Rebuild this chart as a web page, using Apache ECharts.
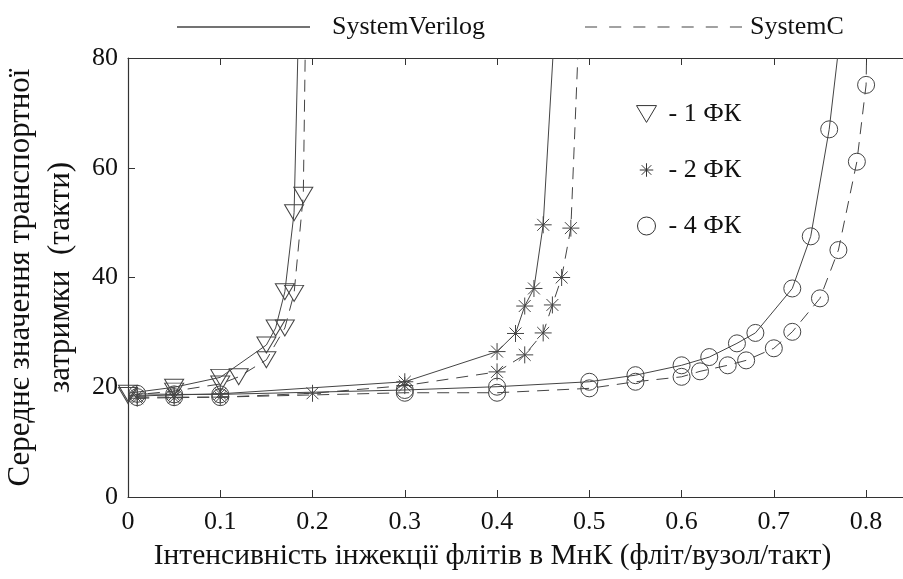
<!DOCTYPE html>
<html>
<head>
<meta charset="utf-8">
<script src="https://cdn.jsdelivr.net/npm/echarts@6/dist/echarts.min.js"></script>
<style>
  html, body { margin: 0; padding: 0; background: #fff; }
  #main { width: 903px; height: 579px; }
</style>
</head>
<body>
<div id="main"></div>
<script>
// точки [інтенсивність, затримка]; остання точка з y = 80 — вихід кривої за верх графіка
var sv1 = [[0, 18.9], [0.05, 20], [0.1, 21.8], [0.15, 27.7], [0.16, 30.8], [0.17, 37.4], [0.18, 51.8], [0.184, 80]];
var sc1 = [[0, 18.5], [0.05, 19.3], [0.1, 20.6], [0.12, 21.9], [0.15, 25], [0.17, 30.8], [0.18, 37.1], [0.19, 55], [0.192, 80]];
var sv2 = [[0.01, 18.4], [0.05, 18.6], [0.1, 18.8], [0.3, 21], [0.4, 26.5], [0.42, 29.8], [0.43, 34.8], [0.44, 38], [0.45, 49.6], [0.4605, 80]];
var sc2 = [[0.01, 18], [0.05, 18.1], [0.1, 18.2], [0.2, 18.9], [0.3, 20.3], [0.4, 22.8], [0.43, 25.9], [0.45, 29.9], [0.46, 35], [0.47, 40], [0.48, 49], [0.4875, 80]];
var sv4 = [[0.01, 18.8], [0.05, 18.7], [0.1, 18.7], [0.3, 19.5], [0.4, 20.1], [0.5, 21], [0.55, 22.2], [0.6, 24], [0.63, 25.5], [0.66, 28], [0.68, 29.9], [0.72, 38], [0.74, 47.5], [0.76, 67], [0.769, 80]];
var sc4 = [[0.01, 18.2], [0.05, 18.2], [0.1, 18.2], [0.3, 19], [0.4, 19], [0.5, 19.8], [0.55, 21], [0.6, 21.9], [0.62, 22.9], [0.65, 24], [0.67, 24.9], [0.7, 27.1], [0.72, 30.1], [0.75, 36.2], [0.77, 45], [0.79, 61.1], [0.8, 75.1], [0.8005, 80]];

var groupNames = ['- 1 ФК', '- 2 ФК', '- 4 ФК'];
var langNames = ['SystemVerilog', 'SystemC'];

var font = "'Liberation Serif', 'Times New Roman', serif";
var ink = '#111';
var lineCol = '#444';
var dash = [12, 8];

var starPath = 'path://M0,-10L0,10M-10,0L10,0M-7,-7L7,7M-7,7L7,-7';
var marks = [
  { symbol: 'triangle', size: [19, 16], rotate: 180 },
  { symbol: starPath, size: 17, rotate: 0 },
  { symbol: 'circle', size: 17, rotate: 0 }
];

function mk(name, pts, m, dashed) {
  return {
    name: name,
    type: 'line',
    data: pts.map(function (p) { return p[1] >= 80 ? { value: p, symbol: 'none' } : p; }),
    symbol: m.symbol,
    symbolSize: m.size,
    symbolRotate: m.rotate,
    showAllSymbol: true,
    lineStyle: { color: lineCol, width: 1, type: dashed ? dash : 'solid' },
    itemStyle: { color: 'rgba(0,0,0,0)', borderColor: lineCol, borderWidth: 1 },
    emphasis: { disabled: true },
    silent: true
  };
}

var series = [
  mk(groupNames[0], sv1, marks[0], false),
  mk(groupNames[0], sc1, marks[0], true),
  mk(groupNames[1], sv2, marks[1], false),
  mk(groupNames[1], sc2, marks[1], true),
  mk(groupNames[2], sv4, marks[2], false),
  mk(groupNames[2], sc4, marks[2], true),
  // порожні серії тільки для легенди зверху
  { name: langNames[0], type: 'line', data: [], lineStyle: { color: lineCol } },
  { name: langNames[1], type: 'line', data: [], lineStyle: { color: lineCol, type: dash } }
];

var dashIcon = 'path://';
for (var i = 0; i < 7; i++) dashIcon += 'M' + (i * 24) + ',0h12v1h-12z';

var myChart = echarts.init(document.getElementById('main'), null, { renderer: 'canvas' });
var option = {
  animation: false,
  backgroundColor: '#fff',
  textStyle: { fontFamily: font },
  grid: { left: 128, right: 0, top: 58, bottom: 82, containLabel: false, outerBoundsMode: 'none' },
  legend: [
    {
      data: [langNames[0]], left: 172, top: 9, selectedMode: false,
      itemWidth: 133, itemHeight: 2,
      icon: 'path://M0,0H100V1H0Z',
      itemStyle: { color: lineCol, borderWidth: 0 },
      textStyle: { fontFamily: font, fontSize: 26, color: ink, padding: [0, 0, 0, 17] }
    },
    {
      data: [langNames[1]], left: 580, top: 9, selectedMode: false,
      itemWidth: 157, itemHeight: 2,
      icon: dashIcon,
      itemStyle: { color: lineCol, borderWidth: 0 },
      textStyle: { fontFamily: font, fontSize: 26, color: ink, padding: [0, 0, 0, 3] }
    },
    {
      data: [
        { name: groupNames[0], icon: 'path://M0,0L19,0L9.5,16Z' },
        { name: groupNames[1], icon: 'path://M-12,-12M12,12M0,-9L0,9M-9,0L9,0M-6.4,-6.4L6.4,6.4M-6.4,6.4L6.4,-6.4' },
        { name: groupNames[2], icon: 'circle' }
      ],
      orient: 'vertical', left: 631, top: 96, selectedMode: false,
      itemWidth: 20, itemHeight: 18, itemGap: 30,
      itemStyle: { color: 'rgba(0,0,0,0)', borderColor: '#333', borderWidth: 1 },
      textStyle: { fontFamily: font, fontSize: 26, color: ink, padding: [0, 0, 0, 7] }
    }
  ],
  xAxis: [
    {
      type: 'value', min: 0, max: 0.84, interval: 0.1,
      name: 'Інтенсивність інжекції флітів в МнК (фліт/вузол/такт)',
      nameLocation: 'middle', nameGap: 44,
      nameTextStyle: { fontFamily: font, fontSize: 29.5, color: ink, padding: [0, 46, 0, 0] },
      axisLine: { show: true, lineStyle: { color: '#333', width: 1.2 } },
      axisTick: { show: true, inside: true, length: 7, lineStyle: { color: '#333' } },
      axisLabel: {
        fontFamily: font, fontSize: 26, color: ink, margin: 12, showMaxLabel: false,
        formatter: function (v) { return v === 0 ? '0' : v.toFixed(1); }
      },
      splitLine: { show: false }
    },
    {
      type: 'value', position: 'top', min: 0, max: 0.84, interval: 0.1,
      axisLine: { show: true, lineStyle: { color: '#333', width: 1.2 } },
      axisTick: { show: true, inside: true, length: 7, lineStyle: { color: '#333' } },
      axisLabel: { show: false },
      splitLine: { show: false }
    }
  ],
  yAxis: {
    type: 'value', min: 0, max: 80, interval: 20,
    name: 'Середнє значення транспортної\nзатримки  (такти)',
    nameLocation: 'middle', nameRotate: 90, nameGap: 47,
    nameTextStyle: { fontFamily: font, fontSize: 31, color: ink, lineHeight: 40, align: 'center' },
    axisLine: { show: true, lineStyle: { color: '#333', width: 1.2 } },
    axisTick: { show: true, inside: true, length: 7, lineStyle: { color: '#333' } },
    axisLabel: { fontFamily: font, fontSize: 26, color: ink, margin: 10 },
    splitLine: { show: false }
  },
  series: series
};
myChart.setOption(option);
</script>
</body>
</html>
